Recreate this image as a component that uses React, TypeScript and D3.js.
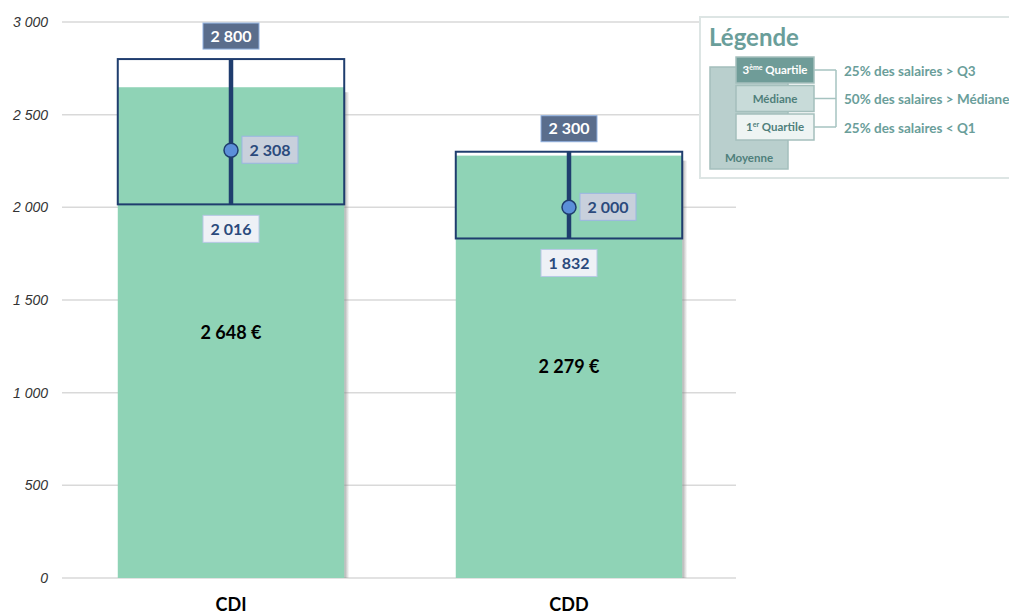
import * as d3 from 'd3'

// Données
const categories = ['CDI', 'CDD']
const means = [2648, 2279]
const q1 = [2016, 1832]
const medians = [2308, 2000]
const q3 = [2800, 2300]
const yTicks = [0, 500, 1000, 1500, 2000, 2500, 3000]

const legendRows = [
  { label: '3ème Quartile', text: '25% des salaires > Q3' },
  { label: 'Médiane', text: '50% des salaires > Médiane' },
  { label: '1er Quartile', text: '25% des salaires < Q1' },
]

const W = 1009
const H = 614
const FONT = 'Lato, "Open Sans", sans-serif'

const fr = d3.formatLocale({ decimal: ',', thousands: '\u00a0', grouping: [3], currency: ['', ' €'] })
const fmt = fr.format(',d')

const BAR = '#8fd3b6'
const NAVY = '#1f3d6e'

export default function App() {
  const x = d3.scaleBand<string>().domain(categories).range([62, 738]).paddingInner(0.33).paddingOuter(0.165)
  const y = d3.scaleLinear().domain([0, 3000]).range([578, 22])
  const bw = x.bandwidth()

  return (
    <svg width={W} height={H} style={{ position: 'absolute', left: 0, top: 0, background: '#fff' }}>
      <defs>
        <linearGradient id="shadow" x1="0" x2="1" y1="0" y2="0">
          <stop offset="0" stopColor="#888" stopOpacity={0.7} />
          <stop offset="1" stopColor="#888" stopOpacity={0} />
        </linearGradient>
      </defs>

      {/* grille + axe y */}
      {yTicks.map((t) => (
        <g key={t}>
          <line x1={62} x2={736} y1={y(t)} y2={y(t)} stroke="#d9d9d9" strokeWidth={1.5} />
          <text x={48} y={y(t)} dy="0.35em" textAnchor="end" fontFamily='"Liberation Sans", Arial' fontStyle="italic" fontSize={14} fill="#333">
            {fmt(t)}
          </text>
        </g>
      ))}

      {categories.map((c, i) => {
        const x0 = x(c)!
        const cx = x0 + bw / 2
        return (
          <g key={c}>
            {/* barre moyenne */}
            <rect x={x0 + bw} y={y(means[i]) + 5} width={5} height={y(0) - y(means[i]) - 5} fill="url(#shadow)" />
            <rect x={x0} y={y(means[i])} width={bw} height={y(0) - y(means[i])} fill={BAR} />
            <text x={cx} y={y(means[i] / 2)} dy="0.35em" textAnchor="middle" fontFamily={FONT} fontWeight="bold" fontSize={18} fill="#000">
              {fmt(means[i]) + ' €'}
            </text>

            {/* boîte Q1-Q3 */}
            <rect x={x0} y={y(q3[i])} width={bw} height={y(q1[i]) - y(q3[i])} fill="none" stroke={NAVY} strokeWidth={2} />
            <line x1={cx} x2={cx} y1={y(q3[i])} y2={y(q1[i])} stroke={NAVY} strokeWidth={4.5} />
            <circle cx={cx} cy={y(medians[i])} r={7} fill="#5b8fd9" stroke={NAVY} strokeWidth={1.5} />

            {/* étiquettes */}
            <rect x={cx - 28} y={y(q3[i]) - 36} width={56} height={26} fill="#5a6d8c" stroke="#8fb0e0" strokeWidth={1} />
            <text x={cx} y={y(q3[i]) - 23} dy="0.35em" textAnchor="middle" fontFamily={FONT} fontWeight="bold" fontSize={16} fill="#fff">
              {fmt(q3[i])}
            </text>

            <rect x={cx + 11} y={y(medians[i]) - 14} width={56} height={27} fill="#c8d0dc" stroke="#9bb5e3" strokeWidth={1} />
            <text x={cx + 39} y={y(medians[i])} dy="0.35em" textAnchor="middle" fontFamily={FONT} fontWeight="bold" fontSize={16} fill="#2b4a7c">
              {fmt(medians[i])}
            </text>

            <rect x={cx - 28} y={y(q1[i]) + 11} width={56} height={27} fill="#eef1f6" stroke="#b8c8e6" strokeWidth={1} />
            <text x={cx} y={y(q1[i]) + 25} dy="0.35em" textAnchor="middle" fontFamily={FONT} fontWeight="bold" fontSize={16} fill="#2b4a7c">
              {fmt(q1[i])}
            </text>

            {/* catégorie */}
            <text x={cx} y={605} dy="0.35em" textAnchor="middle" fontFamily={FONT} fontWeight="bold" fontSize={18} fill="#000">
              {c}
            </text>
          </g>
        )
      })}

      {/* légende */}
      <g>
        <rect x={700} y={17} width={312} height={161} fill="#fff" stroke="#dde5e4" strokeWidth={2} />
        <text x={709} y={46} fontFamily={FONT} fontWeight="bold" fontSize={24} fill="#6a9e9a">Légende</text>
        <rect x={710} y={67} width={78} height={102} fill="#b9cfcd" stroke="#a4bfbc" strokeWidth={1.5} />
        <text x={749} y={158} dy="0.35em" textAnchor="middle" fontFamily={FONT} fontWeight="bold" fontSize={11.5} fill="#4f7f7b">Moyenne</text>
        {legendRows.map((r, i) => {
          const top = 57 + i * 28.5
          const fills = ['#6f9c98', '#c8dbd9', '#eef4f3']
          const cy = top + 13
          return (
            <g key={r.label}>
              <rect x={736} y={top} width={78} height={26} fill={fills[i]} stroke="#a4bfbc" strokeWidth={1.5} />
              <text x={775} y={cy} dy="0.35em" textAnchor="middle" fontFamily={FONT} fontWeight="bold" fontSize={11.5} fill={i === 0 ? '#fff' : '#4f7f7b'}>
                {i === 0 ? (
                  <>3<tspan fontSize={7} dy="-4">ème</tspan><tspan dy="4"> Quartile</tspan></>
                ) : i === 2 ? (
                  <>1<tspan fontSize={7} dy="-4">er</tspan><tspan dy="4"> Quartile</tspan></>
                ) : (
                  r.label
                )}
              </text>
              <line x1={814} x2={836} y1={cy} y2={cy} stroke="#a6c3c0" strokeWidth={1.5} />
              <text x={844} y={cy + 1} dy="0.35em" fontFamily={FONT} fontWeight="bold" fontSize={13.5} fill="#6a9e9a">{r.text}</text>
            </g>
          )
        })}
        <line x1={836} x2={836} y1={70} y2={127} stroke="#a6c3c0" strokeWidth={1.5} />
      </g>
    </svg>
  )
}
